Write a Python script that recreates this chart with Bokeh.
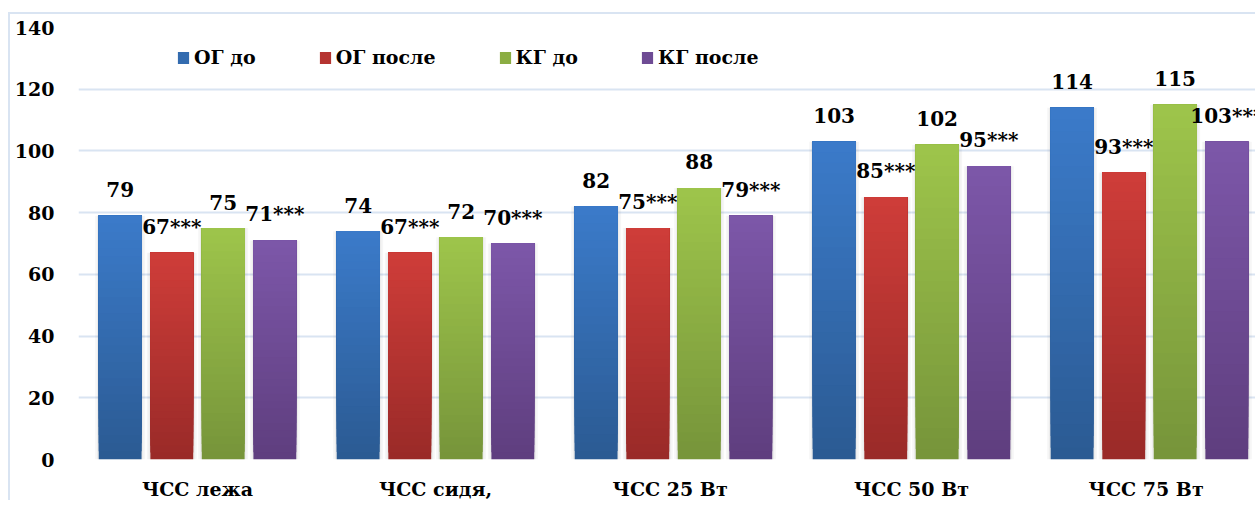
import numpy as np
from bokeh.plotting import figure
from bokeh.models import ColumnDataSource, Range1d, FixedTicker, Legend, LegendItem
from bokeh.core.properties import value
from bokeh.embed import file_html
from bokeh.resources import INLINE

# ---- data ----
categories = ["ЧСС лежа", "ЧСС сидя,", "ЧСС  25 Вт", "ЧСС 50 Вт", "ЧСС  75 Вт"]
series_names = ["ОГ до", "ОГ после", "КГ до", "КГ после"]
og_do = [79, 74, 82, 103, 114]
og_posle = [67, 67, 75, 85, 93]
kg_do = [75, 72, 88, 102, 115]
kg_posle = [71, 70, 79, 95, 103]
og_do_marks = ["", "", "", "", ""]
og_posle_marks = ["***", "***", "***", "***", "***"]
kg_do_marks = ["", "", "", "", ""]
kg_posle_marks = ["***", "***", "***", "***", "***"]
y_ticks = [0, 20, 40, 60, 80, 100, 120, 140]

# ---- style ----
top_colors = ["#3b7bca", "#cf3d39", "#9ec54b", "#7d57a9"]
bottom_colors = ["#2b5a92", "#992a28", "#76943a", "#5e3e7e"]
offsets = [-0.325, -0.108, 0.108, 0.325]
bar_w = 0.18
FONT = "DejaVu Serif"

series_vals = [og_do, og_posle, kg_do, kg_posle]
series_marks = [og_do_marks, og_posle_marks, kg_do_marks, kg_posle_marks]


def hex2rgb(h):
    h = h.lstrip("#")
    return np.array([int(h[i:i + 2], 16) for i in (0, 2, 4)], dtype=float)


def rgb2hex(c):
    return "#%02x%02x%02x" % tuple(int(round(v)) for v in c)


p = figure(width=1247, height=488, output_backend="svg", toolbar_location=None,
           x_range=Range1d(0, 4.954), y_range=Range1d(0, 140),
           min_border_left=68, min_border_right=0, min_border_top=13, min_border_bottom=42)
p.styles = {"margin-top": "12px", "margin-left": "8px",
            "border-top": "2px solid #d9e4f2", "border-left": "2px solid #d9e4f2"}
p.outline_line_color = None
p.background_fill_color = "white"

N = 30
legend_items = []
for si, vals in enumerate(series_vals):
    xs = [i + 0.5 + offsets[si] for i in range(len(categories))]
    p.vbar(x=xs, top=vals, bottom=0, width=bar_w + 0.03, fill_color="black",
           fill_alpha=0.035, line_color=None)
    p.vbar(x=xs, top=vals, bottom=0, width=bar_w + 0.015, fill_color="black",
           fill_alpha=0.04, line_color=None)
    tc, bc = hex2rgb(top_colors[si]), hex2rgb(bottom_colors[si])
    bx, bb, bt, bcol = [], [], [], []
    for x, v in zip(xs, vals):
        for k in range(N):
            f = (k + 0.5) / N
            bx.append(x)
            bb.append(v * k / N)
            bt.append(v)
            bcol.append(rgb2hex(bc + (tc - bc) * f))
    src = ColumnDataSource(dict(x=bx, bottom=bb, top=bt, color=bcol))
    r = p.vbar(x="x", bottom="bottom", top="top", width=bar_w, source=src,
               fill_color="color", line_color=None)
    legend_items.append(LegendItem(label=series_names[si], renderers=[r], index=N // 2))
    labels = [f"{v}{m}" for v, m in zip(vals, series_marks[si])]
    lsrc = ColumnDataSource(dict(x=xs, y=vals, t=labels))
    p.text(x="x", y="y", text="t", source=lsrc, text_align="center",
           text_baseline="middle", y_offset=-26, text_font=value(FONT),
           text_font_style="bold", text_font_size="20px", text_color="black")

legend = Legend(items=legend_items, orientation="horizontal", location=(98, 391),
                spacing=62, padding=0, margin=0, glyph_width=14, glyph_height=15,
                label_standoff=4, label_text_font=FONT, label_text_font_style="bold",
                label_text_font_size="19px", label_text_color="black",
                border_line_color=None, background_fill_alpha=0)
p.add_layout(legend)

# axes
p.xaxis.ticker = FixedTicker(ticks=[i + 0.5 for i in range(len(categories))])
p.xaxis.major_label_overrides = {i + 0.5: c for i, c in enumerate(categories)}
p.yaxis.ticker = FixedTicker(ticks=y_ticks)
for ax in (p.xaxis, p.yaxis):
    ax.axis_line_color = None
    ax.major_tick_line_color = None
    ax.minor_tick_line_color = None
    ax.major_tick_out = 0
    ax.major_tick_in = 0
    ax.major_label_text_font = FONT
    ax.major_label_text_font_style = "bold"
    ax.major_label_text_font_size = "19px"
    ax.major_label_text_color = "black"
p.xaxis.major_label_standoff = 18
p.yaxis.major_label_standoff = 24

p.xgrid.grid_line_color = None
p.ygrid.grid_line_color = "#d9e4f2"
p.ygrid.grid_line_width = 2

open("out.html", "w").write(file_html(p, INLINE))
